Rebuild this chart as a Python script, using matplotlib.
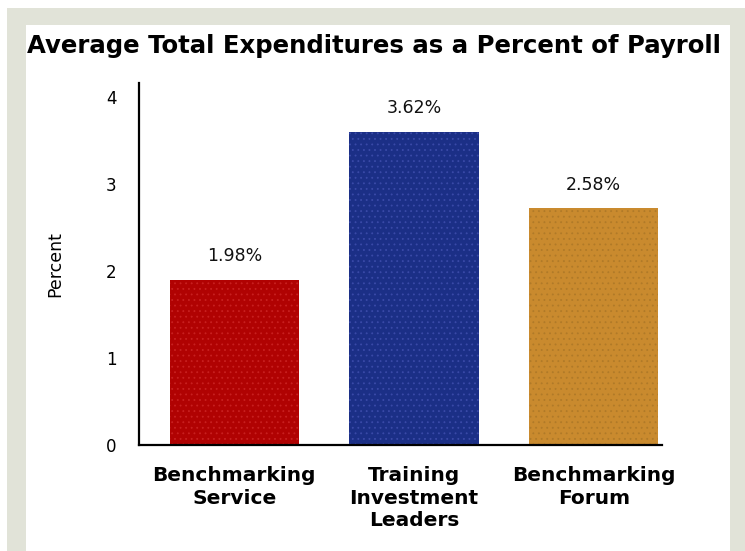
import matplotlib
matplotlib.use("Agg")
import matplotlib.pyplot as plt
from matplotlib.patches import Rectangle

categories = ["Benchmarking\nService", "Training\nInvestment\nLeaders", "Benchmarking\nForum"]
values = [1.90, 3.60, 2.72]
value_labels = ["1.98%", "3.62%", "2.58%"]
colors = ["#b00202", "#1b2f86", "#c98a2e"]
hatch_colors = ["#c82020", "#3a4aa8", "#b07a28"]
yticks = [0, 1, 2, 3, 4]
title = "Average Total Expenditures as a Percent of Payroll"
ylabel = "Percent"

W, H = 745, 551
fig = plt.figure(figsize=(W / 100, H / 100), dpi=100)
fig.patch.set_facecolor("white")

bg = fig.add_axes([0, 0, 1, 1], zorder=-5)
bg.set_xlim(0, W)
bg.set_ylim(H, 0)
bg.axis("off")
bg.add_patch(Rectangle((7, 8), W - 7, H - 8, facecolor="#e1e3d8", edgecolor="none"))
bg.add_patch(Rectangle((26, 25), 730 - 26, H - 25, facecolor="white", edgecolor="none"))

ax = fig.add_axes([139 / W, (H - 445) / H, (662 - 139) / W, (445 - 83) / H], zorder=1)
ax.set_facecolor("none")
x = list(range(len(categories)))
plt.rcParams["hatch.linewidth"] = 0.6
bars = ax.bar(x, values, width=0.72, color=colors, edgecolor="none", zorder=2)
for b, hc in zip(bars, hatch_colors):
    b.set_hatch("...")
    b._hatch_color = matplotlib.colors.to_rgba(hc)
ax.set_xlim(-0.53, 2.38)
ax.set_ylim(0, 4.16)

for xi, v, lab in zip(x, values, value_labels):
    ax.annotate(lab, (xi, v), xytext=(0, 17), textcoords="offset points",
                ha="center", va="center", fontsize=12.5, color="#111111")

ax.set_yticks(yticks)
ax.set_yticklabels([str(t) for t in yticks], fontsize=12)
ax.set_xticks(x)
ax.set_xticklabels(categories, fontsize=14.5, fontweight="bold", linespacing=1.25)
ax.tick_params(axis="both", length=0)
ax.tick_params(axis="y", pad=16)
ax.tick_params(axis="x", pad=15)
for s in ["top", "right"]:
    ax.spines[s].set_visible(False)
for s in ["left", "bottom"]:
    ax.spines[s].set_linewidth(1.6)
    ax.spines[s].set_color("black")

ax.set_ylabel(ylabel, fontsize=12.5, labelpad=30)

fig.text(27 / W, 1 - 46 / H, title, ha="left", va="center", fontsize=17.6,
         fontweight="bold", color="black")

fig.savefig("out.png", dpi=100, facecolor=fig.get_facecolor())
